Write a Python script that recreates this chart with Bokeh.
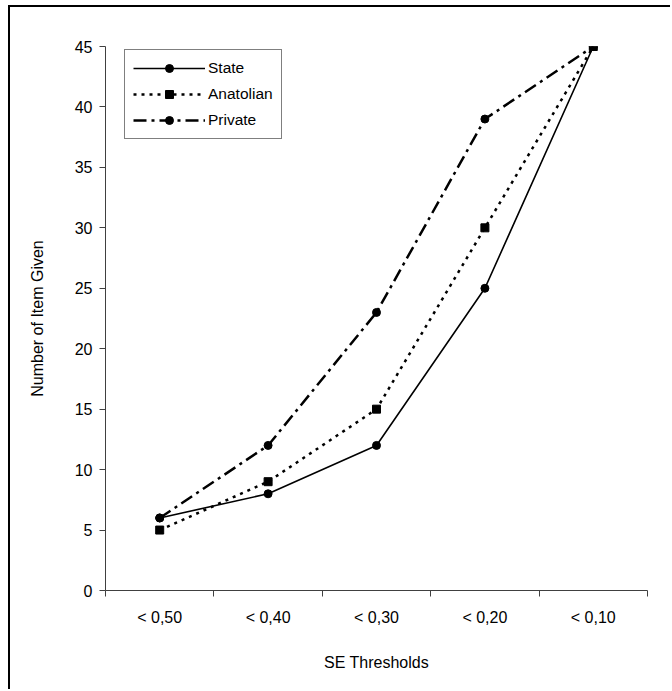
from bokeh.plotting import figure
from bokeh.models import Range1d, FixedTicker, Legend, LegendItem
from bokeh.embed import file_html
from bokeh.resources import INLINE

categories = ["< 0,50", "< 0,40", "< 0,30", "< 0,20", "< 0,10"]
state = [6, 8, 12, 25, 45]
anatolian = [5, 9, 15, 30, 45]
private = [6, 12, 23, 39, 45]
y_ticks = [0, 5, 10, 15, 20, 25, 30, 35, 40, 45]

FONT = "Liberation Sans"

xs = [i + 0.5 for i in range(len(categories))]

p = figure(width=662, height=684,
           x_range=Range1d(0, len(categories)), y_range=Range1d(0, 45),
           output_backend="svg", toolbar_location=None,
           min_border_left=95, min_border_right=25,
           min_border_top=39, min_border_bottom=101)
p.styles = {"border-left": "2px solid black", "border-top": "2px solid black",
            "margin-left": "8px", "margin-top": "5px"}
p.outline_line_color = None
p.background_fill_color = "white"
p.border_fill_color = "white"
p.xgrid.visible = False
p.ygrid.visible = False

# x axis
xa = p.xaxis[0]
xa.ticker = FixedTicker(ticks=xs, minor_ticks=list(range(len(categories) + 1)))
xa.major_label_overrides = {x: c for x, c in zip(xs, categories)}
xa.major_tick_out = 0
xa.major_tick_in = 0
xa.minor_tick_out = 6
xa.minor_tick_in = 0
xa.minor_tick_line_color = "#404040"
xa.axis_line_color = "#404040"
xa.major_label_standoff = 12
xa.major_label_text_font = FONT
xa.major_label_text_font_size = "16px"
xa.major_label_text_color = "black"
xa.axis_label = "SE Thresholds"
xa.axis_label_text_font = FONT
xa.axis_label_text_font_size = "16px"
xa.axis_label_text_font_style = "normal"
xa.axis_label_text_color = "black"
xa.axis_label_standoff = 25

# y axis
ya = p.yaxis[0]
ya.ticker = FixedTicker(ticks=y_ticks, minor_ticks=[])
ya.major_tick_out = 6
ya.major_tick_in = 0
ya.major_tick_line_color = "#404040"
ya.axis_line_color = "#404040"
ya.major_label_standoff = 7
ya.major_label_text_font = FONT
ya.major_label_text_font_size = "16px"
ya.major_label_text_color = "black"
ya.axis_label = "Number of Item Given"
ya.axis_label_text_font = FONT
ya.axis_label_text_font_size = "16px"
ya.axis_label_text_font_style = "normal"
ya.axis_label_text_color = "black"
ya.axis_label_standoff = 26

l_state = p.line(xs, state, line_color="black", line_width=1.6)
l_priv = p.line(xs, private, line_color="black", line_width=2.5, line_dash="13 5 3 5")
l_anat = p.line(xs, anatolian, line_color="black", line_width=2.5, line_dash="3 5")

m_state = p.scatter(xs, state, marker="circle", size=8, fill_color="black", line_color="black")
m_priv = p.scatter(xs, private, marker="circle", size=8, fill_color="black", line_color="black")
m_anat = p.scatter(xs, anatolian, marker="square", size=8, fill_color="black", line_color="black")

legend = Legend(items=[
    LegendItem(label="State", renderers=[l_state, m_state]),
    LegendItem(label="Anatolian", renderers=[l_anat, m_anat]),
    LegendItem(label="Private", renderers=[l_priv, m_priv]),
])
legend.margin = 0
legend.border_line_color = "black"
legend.border_line_width = 1
legend.background_fill_alpha = 1
legend.label_text_font = FONT
legend.label_text_font_size = "15.5px"
legend.label_text_color = "black"
legend.glyph_width = 72
legend.glyph_height = 20
legend.label_height = 20
legend.spacing = 6
legend.padding = 8
legend.label_standoff = 3
p.add_layout(legend)
legend.location = (19, 545 - 6 - 88)

open("out.html", "w").write(file_html(p, INLINE))
